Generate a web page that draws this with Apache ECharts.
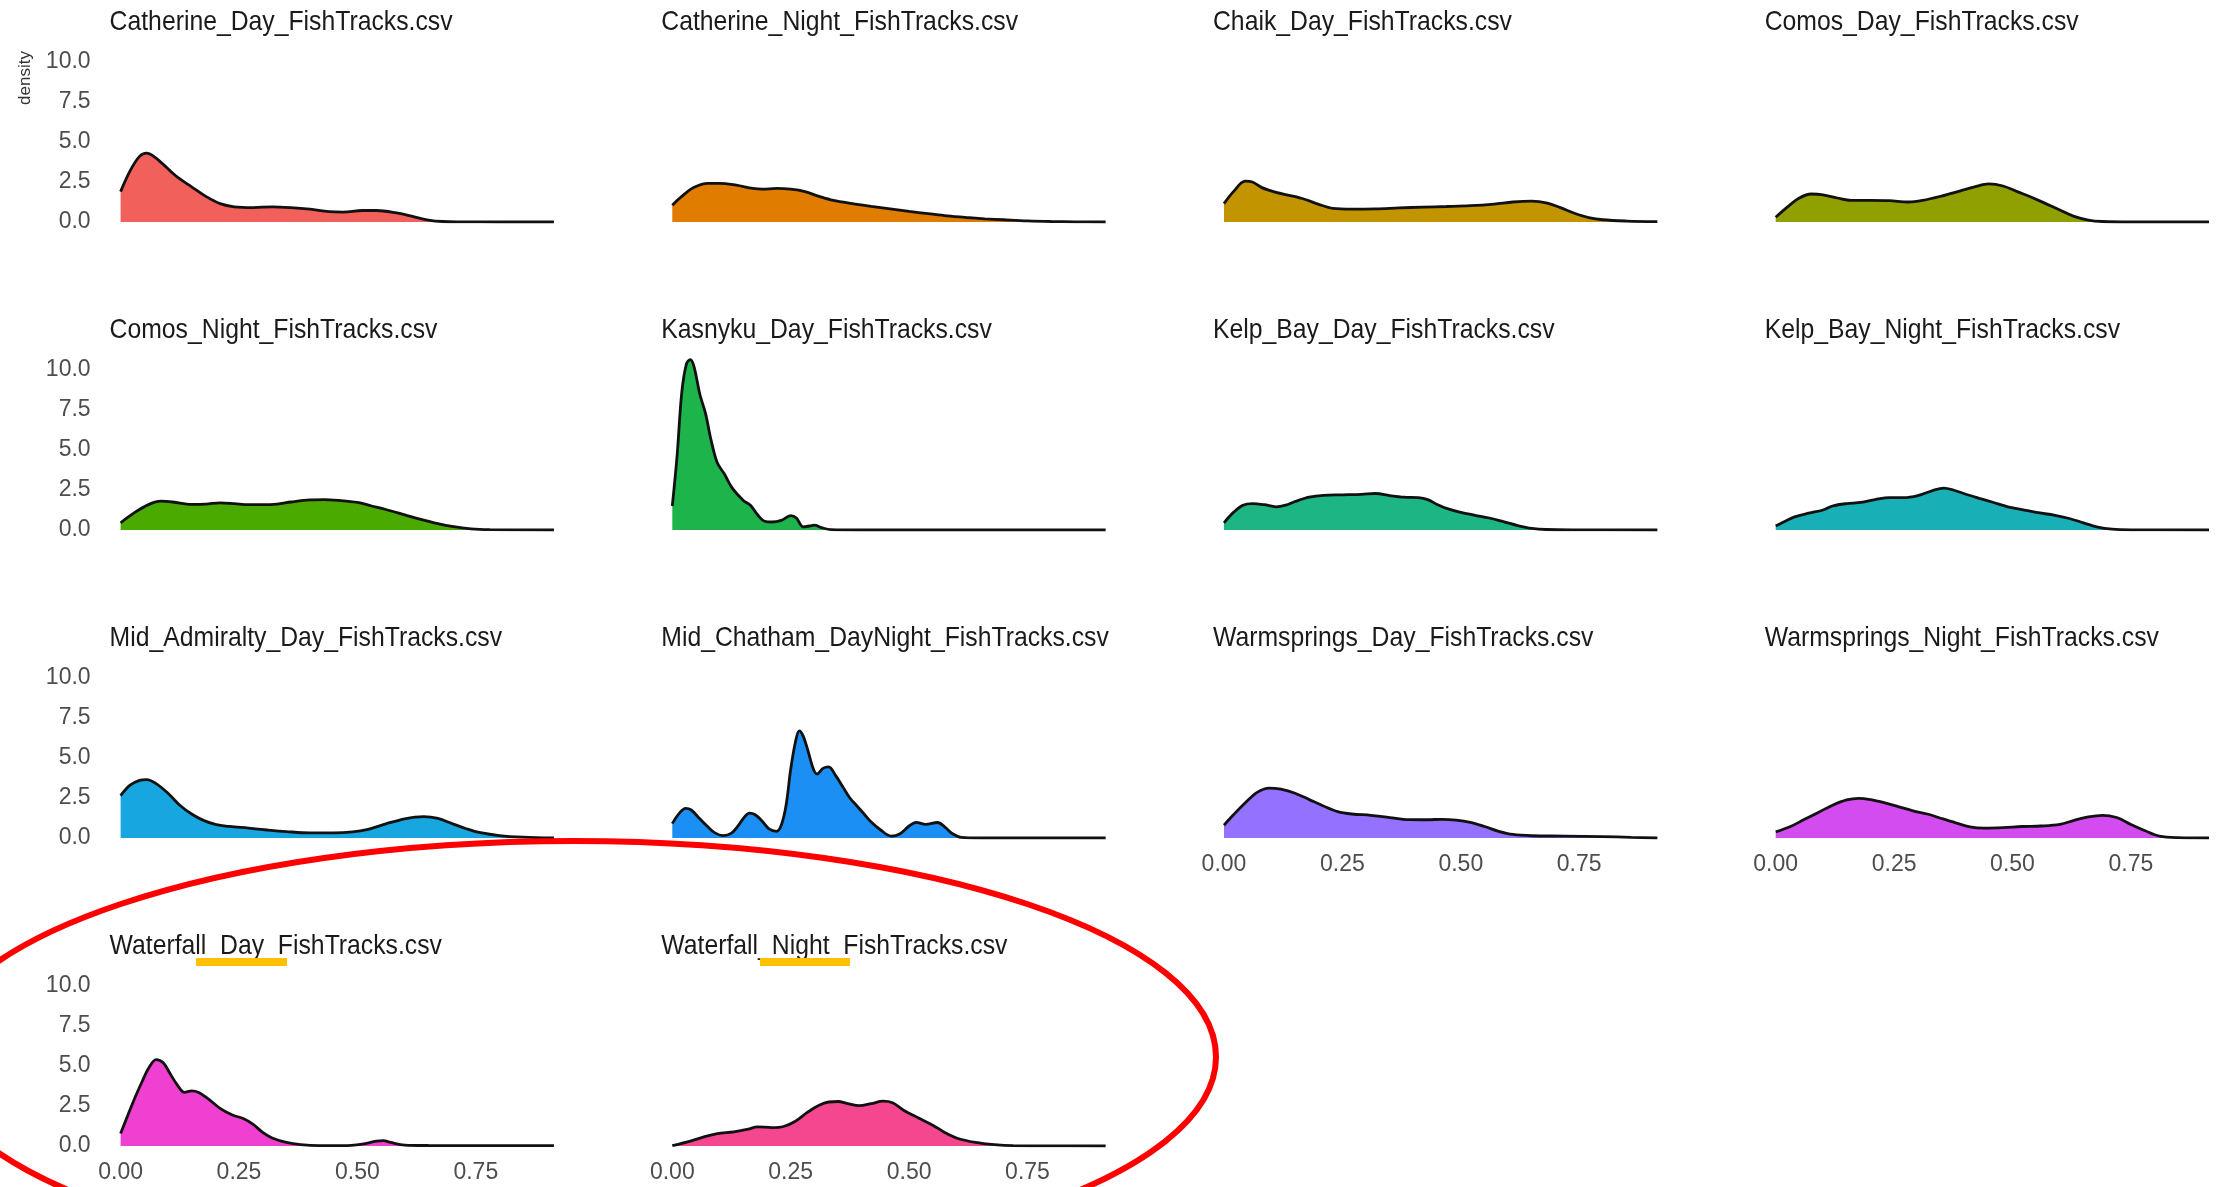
<!DOCTYPE html>
<html>
<head>
<meta charset="utf-8">
<title>FishTracks density</title>
<script src="https://cdn.jsdelivr.net/npm/echarts@6/dist/echarts.min.js"></script>
<style>
  html, body { margin: 0; padding: 0; background: #fff; }
  #chart { width: 2224px; height: 1187px; }
</style>
</head>
<body>
<div id="chart"></div>
<script>
// panel titles, in facet order
var panelNames = [
  'Catherine_Day_FishTracks.csv', 'Catherine_Night_FishTracks.csv', 'Chaik_Day_FishTracks.csv', 'Comos_Day_FishTracks.csv',
  'Comos_Night_FishTracks.csv', 'Kasnyku_Day_FishTracks.csv', 'Kelp_Bay_Day_FishTracks.csv', 'Kelp_Bay_Night_FishTracks.csv',
  'Mid_Admiralty_Day_FishTracks.csv', 'Mid_Chatham_DayNight_FishTracks.csv', 'Warmsprings_Day_FishTracks.csv', 'Warmsprings_Night_FishTracks.csv',
  'Waterfall_Day_FishTracks.csv', 'Waterfall_Night_FishTracks.csv'
];

var xTicks = [0, 0.25, 0.5, 0.75];
var yTicks = [0, 2.5, 5, 7.5, 10];

// density curves: [x, density]
var catherineDay = [[0,1.9],[0.02,3.2],[0.04,4.1],[0.055,4.3],[0.07,4.1],[0.09,3.6],[0.12,2.8],[0.15,2.2],[0.18,1.6],[0.21,1.15],[0.24,0.95],[0.28,0.9],[0.32,0.95],[0.36,0.9],[0.4,0.8],[0.44,0.65],[0.47,0.62],[0.51,0.72],[0.54,0.72],[0.58,0.58],[0.62,0.32],[0.65,0.12],[0.68,0.03],[0.72,0.01],[0.8,0],[0.915,0]];
var catherineNight = [[0,1.05],[0.02,1.6],[0.045,2.15],[0.075,2.42],[0.1,2.42],[0.135,2.3],[0.17,2.1],[0.19,2.05],[0.22,2.1],[0.25,2.05],[0.28,1.9],[0.31,1.6],[0.34,1.35],[0.38,1.15],[0.42,0.98],[0.46,0.82],[0.5,0.66],[0.54,0.52],[0.58,0.38],[0.62,0.28],[0.66,0.2],[0.7,0.14],[0.75,0.07],[0.8,0.03],[0.85,0.01],[0.915,0]];
var chaikDay = [[0,1.15],[0.02,1.9],[0.045,2.55],[0.06,2.5],[0.08,2.15],[0.11,1.85],[0.14,1.65],[0.17,1.42],[0.2,1.1],[0.23,0.85],[0.27,0.8],[0.32,0.82],[0.37,0.88],[0.42,0.93],[0.47,0.97],[0.52,1.02],[0.57,1.12],[0.61,1.25],[0.65,1.3],[0.68,1.2],[0.71,0.9],[0.74,0.55],[0.77,0.28],[0.8,0.14],[0.85,0.06],[0.915,0.02]];
var comosDay = [[0,0.3],[0.025,0.95],[0.05,1.5],[0.075,1.75],[0.1,1.7],[0.13,1.5],[0.16,1.35],[0.2,1.35],[0.24,1.33],[0.28,1.25],[0.31,1.35],[0.35,1.62],[0.39,1.95],[0.42,2.2],[0.45,2.38],[0.48,2.25],[0.51,1.9],[0.54,1.55],[0.57,1.15],[0.6,0.75],[0.63,0.35],[0.66,0.12],[0.69,0.03],[0.75,0],[0.915,0]];
var comosNight = [[0,0.45],[0.03,1.1],[0.06,1.6],[0.085,1.8],[0.11,1.75],[0.15,1.6],[0.18,1.62],[0.21,1.7],[0.24,1.65],[0.27,1.58],[0.3,1.58],[0.33,1.62],[0.36,1.75],[0.4,1.88],[0.43,1.9],[0.46,1.85],[0.5,1.72],[0.53,1.5],[0.56,1.28],[0.6,0.95],[0.63,0.7],[0.67,0.4],[0.7,0.22],[0.74,0.07],[0.78,0.02],[0.915,0]];
var kasnykuDay = [[0,1.5],[0.01,4.6],[0.02,8.6],[0.03,10.4],[0.038,10.65],[0.046,10.2],[0.058,8.5],[0.07,7.3],[0.082,5.6],[0.095,4.2],[0.11,3.5],[0.127,2.6],[0.15,1.85],[0.165,1.55],[0.18,0.95],[0.195,0.55],[0.21,0.5],[0.23,0.6],[0.25,0.9],[0.262,0.75],[0.276,0.2],[0.29,0.25],[0.3,0.3],[0.315,0.15],[0.335,0.02],[0.4,0],[0.915,0]];
var kelpBayDay = [[0,0.45],[0.02,1.1],[0.04,1.55],[0.06,1.65],[0.085,1.58],[0.11,1.45],[0.13,1.55],[0.15,1.78],[0.18,2.05],[0.21,2.17],[0.25,2.2],[0.29,2.23],[0.32,2.28],[0.35,2.15],[0.38,2.05],[0.41,2.02],[0.43,1.9],[0.45,1.6],[0.47,1.35],[0.5,1.1],[0.53,0.92],[0.56,0.75],[0.59,0.52],[0.62,0.28],[0.65,0.1],[0.68,0.03],[0.75,0.01],[0.915,0]];
var kelpBayNight = [[0,0.25],[0.02,0.55],[0.04,0.82],[0.07,1.05],[0.1,1.25],[0.12,1.5],[0.15,1.65],[0.18,1.72],[0.21,1.9],[0.24,2.02],[0.27,2.02],[0.3,2.15],[0.33,2.45],[0.355,2.62],[0.375,2.5],[0.4,2.25],[0.43,1.98],[0.46,1.72],[0.49,1.45],[0.52,1.28],[0.55,1.1],[0.59,0.92],[0.62,0.72],[0.65,0.45],[0.68,0.18],[0.71,0.05],[0.75,0.01],[0.915,0]];
var midAdmiraltyDay = [[0,2.65],[0.02,3.3],[0.04,3.6],[0.055,3.65],[0.075,3.4],[0.1,2.8],[0.125,2.05],[0.15,1.5],[0.175,1.1],[0.2,0.85],[0.23,0.72],[0.27,0.62],[0.31,0.5],[0.35,0.4],[0.4,0.32],[0.45,0.32],[0.49,0.38],[0.52,0.52],[0.56,0.88],[0.6,1.2],[0.64,1.33],[0.67,1.22],[0.7,0.9],[0.73,0.58],[0.76,0.33],[0.8,0.15],[0.85,0.05],[0.915,0]];
var midChathamDayNight = [[0,0.9],[0.015,1.55],[0.028,1.85],[0.04,1.75],[0.058,1.2],[0.075,0.7],[0.09,0.32],[0.107,0.15],[0.125,0.3],[0.14,0.8],[0.152,1.3],[0.163,1.55],[0.175,1.45],[0.19,1.05],[0.205,0.55],[0.22,0.42],[0.23,0.8],[0.24,2.0],[0.25,4.3],[0.26,6.0],[0.268,6.7],[0.276,6.4],[0.286,5.5],[0.298,4.3],[0.306,4.0],[0.318,4.35],[0.33,4.45],[0.345,3.9],[0.36,3.2],[0.375,2.5],[0.39,2.0],[0.405,1.5],[0.42,1.0],[0.44,0.5],[0.462,0.12],[0.48,0.25],[0.5,0.75],[0.515,0.98],[0.535,0.85],[0.56,0.97],[0.575,0.7],[0.59,0.3],[0.61,0.04],[0.65,0],[0.915,0]];
var warmspringsDay = [[0,0.8],[0.02,1.45],[0.045,2.2],[0.07,2.85],[0.095,3.12],[0.12,3.05],[0.15,2.8],[0.18,2.4],[0.21,2.0],[0.24,1.65],[0.27,1.5],[0.31,1.42],[0.35,1.28],[0.39,1.15],[0.43,1.14],[0.46,1.17],[0.49,1.12],[0.52,0.98],[0.55,0.72],[0.58,0.42],[0.61,0.22],[0.65,0.14],[0.72,0.12],[0.8,0.09],[0.86,0.04],[0.915,0]];
var warmspringsNight = [[0,0.38],[0.03,0.7],[0.06,1.15],[0.09,1.6],[0.12,2.05],[0.15,2.38],[0.175,2.48],[0.2,2.4],[0.23,2.2],[0.26,1.95],[0.29,1.7],[0.32,1.5],[0.35,1.22],[0.38,0.95],[0.41,0.7],[0.44,0.62],[0.48,0.65],[0.52,0.72],[0.56,0.75],[0.6,0.85],[0.63,1.1],[0.66,1.32],[0.69,1.42],[0.72,1.28],[0.75,0.85],[0.78,0.45],[0.81,0.12],[0.85,0.02],[0.915,0]];
var waterfallDay = [[0,0.78],[0.015,1.9],[0.03,3.0],[0.045,4.0],[0.06,4.9],[0.075,5.4],[0.09,5.2],[0.105,4.5],[0.12,3.8],[0.135,3.35],[0.15,3.45],[0.165,3.35],[0.185,2.95],[0.21,2.35],[0.235,1.95],[0.26,1.7],[0.28,1.35],[0.3,0.85],[0.32,0.5],[0.35,0.22],[0.38,0.08],[0.42,0.02],[0.47,0.02],[0.51,0.12],[0.54,0.3],[0.555,0.33],[0.57,0.22],[0.6,0.06],[0.65,0.03],[0.75,0.02],[0.915,0.02]];
var waterfallNight = [[0,0.02],[0.04,0.32],[0.07,0.6],[0.095,0.78],[0.13,0.88],[0.16,1.05],[0.18,1.2],[0.21,1.15],[0.235,1.22],[0.26,1.55],[0.285,2.1],[0.31,2.55],[0.33,2.75],[0.35,2.78],[0.37,2.65],[0.395,2.52],[0.42,2.65],[0.445,2.8],[0.465,2.7],[0.49,2.2],[0.52,1.75],[0.55,1.3],[0.575,0.85],[0.6,0.5],[0.64,0.22],[0.68,0.08],[0.72,0.02],[0.8,0.01],[0.915,0]];

var densities = [
  catherineDay, catherineNight, chaikDay, comosDay,
  comosNight, kasnykuDay, kelpBayDay, kelpBayNight,
  midAdmiraltyDay, midChathamDayNight, warmspringsDay, warmspringsNight,
  waterfallDay, waterfallNight
];

// fill colours as they appear in the picture (ggplot hue scale, 14 levels)
var fills = ['#F2605B', '#E07C00', '#C29400', '#8FA000', '#4BAA00', '#1DB44C', '#1DB583',
             '#18B0B6', '#18A6E0', '#1C8FF5', '#9472FF', '#D24CF0', '#F040D2', '#F5478F'];

var chart = echarts.init(document.getElementById('chart'));

// panel geometry
var colLeft = [120.6, 672.3, 1224, 1775.7];
var rowBase = [222, 530, 838, 1146];
var xMax = 0.915, yMax = 11;
var pxPerX = 473.6, pxPerY = 16;
var font = 'Liberation Sans, Arial, sans-serif';

var grids = [], xAxes = [], yAxes = [], series = [], graphics = [];

densities.forEach(function (d, i) {
  var r = Math.floor(i / 4), c = i % 4;
  var h = yMax * pxPerY;
  grids.push({ left: colLeft[c], top: rowBase[r] - h, width: xMax * pxPerX, height: h });
  xAxes.push({
    type: 'value', gridIndex: i, min: 0, max: xMax, interval: 0.25,
    axisLine: { show: false }, axisTick: { show: false }, splitLine: { show: false },
    axisLabel: {
      show: i >= 10, showMaxLabel: false, margin: 15,
      fontSize: 23, fontFamily: font, color: '#4d4d4d',
      formatter: function (v) { return v.toFixed(2); }
    }
  });
  yAxes.push({
    type: 'value', gridIndex: i, min: 0, max: yMax, interval: 2.5,
    axisLine: { show: false }, axisTick: { show: false }, splitLine: { show: false },
    axisLabel: {
      show: c === 0, showMaxLabel: false, margin: 30,
      fontSize: 23, fontFamily: font, color: '#4d4d4d',
      formatter: function (v) { return v.toFixed(1); }
    }
  });
  series.push({
    type: 'line', name: panelNames[i], xAxisIndex: i, yAxisIndex: i,
    data: d, smooth: 0.35, symbol: 'none',
    lineStyle: { color: '#111', width: 2.8 },
    areaStyle: { color: fills[i], opacity: 1 },
    z: 2
  });
  graphics.push({
    type: 'text', x: colLeft[c] - 11, y: rowBase[r] - 200, scaleX: 0.9,
    style: { text: panelNames[i], font: '27.5px ' + font, fill: '#1a1a1a', verticalAlign: 'middle' }
  });
});

// y-axis title
graphics.push({
  type: 'text', x: 25, y: 78, rotation: Math.PI / 2,
  style: { text: 'density', font: '17px ' + font, fill: '#333', align: 'center', verticalAlign: 'middle' }
});

// annotations drawn over the figure
graphics.push({ type: 'rect', shape: { x: 196, y: 958, width: 91, height: 8 }, style: { fill: '#FFC000' }, z: 10 });
graphics.push({ type: 'rect', shape: { x: 760, y: 958, width: 90, height: 8 }, style: { fill: '#FFC000' }, z: 10 });
graphics.push({
  type: 'ellipse', shape: { cx: 574, cy: 1057, rx: 642, ry: 216 },
  style: { fill: null, stroke: '#FF0000', lineWidth: 6 }, z: 10
});

chart.setOption({
  animation: false,
  grid: grids,
  xAxis: xAxes,
  yAxis: yAxes,
  series: series,
  graphic: graphics
});
</script>
</body>
</html>
